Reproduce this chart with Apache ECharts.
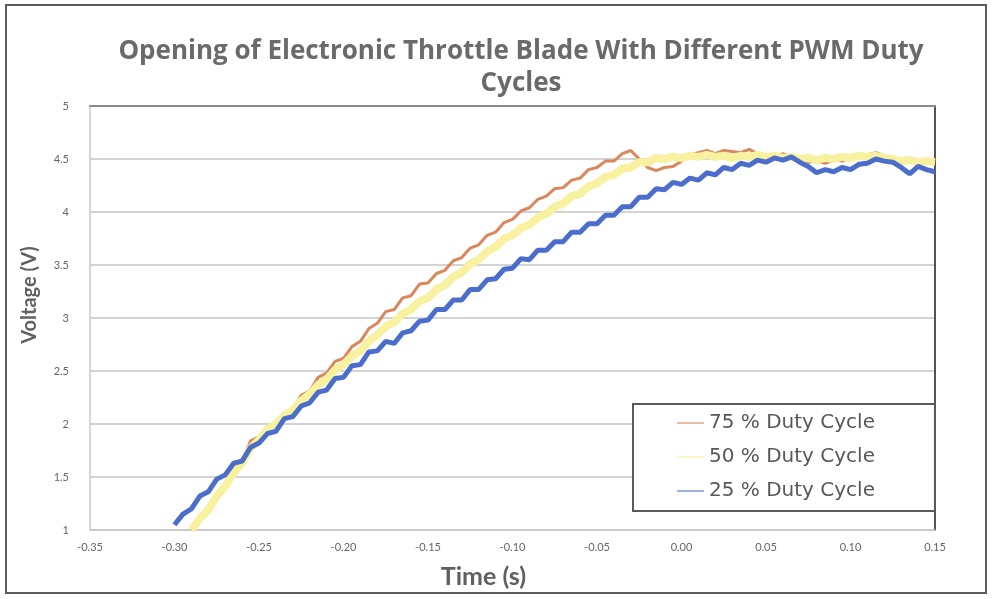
<!DOCTYPE html>
<html>
<head>
<meta charset="utf-8">
<script src="https://cdn.jsdelivr.net/npm/echarts@6/dist/echarts.min.js"></script>
<style>
  html, body { margin: 0; padding: 0; background: #ffffff; }
  #chart { width: 996px; height: 599px; }
</style>
</head>
<body>
<div id="chart"></div>
<script>
// Sample times (s), one sample every 5 ms from -0.300 to 0.150
const timeStart = -0.300;
const timeStep = 0.005;
const sampleCount = 91;

// Throttle position sensor voltage (V) for each PWM duty cycle
const duty75 = [
  null, null,
  1.00, 1.12, 1.18, 1.32, 1.40, 1.57, 1.65, 1.84,
  1.88, 1.98, 2.00, 2.10, 2.14, 2.27, 2.31, 2.44, 2.48, 2.59,
  2.62, 2.73, 2.78, 2.90, 2.95, 3.06, 3.08, 3.19, 3.21, 3.32,
  3.33, 3.42, 3.45, 3.54, 3.57, 3.66, 3.69, 3.78, 3.81, 3.90,
  3.93, 4.01, 4.04, 4.12, 4.15, 4.22, 4.23, 4.30, 4.32, 4.40,
  4.42, 4.48, 4.48, 4.55, 4.58, 4.50, 4.42, 4.39, 4.42, 4.43,
  4.48, 4.54, 4.56, 4.58, 4.55, 4.58, 4.57, 4.56, 4.59, 4.55,
  4.54, 4.51, 4.55, 4.52, 4.50, 4.47, 4.48, 4.46, 4.49, 4.48,
  4.51, 4.52, 4.54, 4.56, 4.53, 4.52, 4.49, 4.50, 4.47, 4.48,
  4.46
];

const duty50 = [
  null, null,
  1.00, 1.11, 1.19, 1.32, 1.41, 1.54, 1.63, 1.77,
  1.85, 1.95, 2.00, 2.08, 2.13, 2.22, 2.28, 2.37, 2.42, 2.51,
  2.56, 2.64, 2.69, 2.78, 2.84, 2.92, 2.96, 3.04, 3.08, 3.16,
  3.19, 3.27, 3.31, 3.39, 3.43, 3.51, 3.55, 3.63, 3.67, 3.75,
  3.78, 3.85, 3.88, 3.95, 3.98, 4.05, 4.08, 4.15, 4.17, 4.24,
  4.27, 4.33, 4.35, 4.41, 4.42, 4.47, 4.47, 4.51, 4.50, 4.52,
  4.51, 4.53, 4.52, 4.54, 4.52, 4.53, 4.51, 4.53, 4.52, 4.54,
  4.52, 4.53, 4.51, 4.52, 4.50, 4.51, 4.49, 4.51, 4.50, 4.52,
  4.51, 4.53, 4.52, 4.53, 4.51, 4.50, 4.48, 4.49, 4.47, 4.48,
  4.47
];

const duty25 = [
  1.05, 1.15, 1.20, 1.32, 1.36, 1.48, 1.52, 1.63, 1.65, 1.78,
  1.82, 1.91, 1.93, 2.05, 2.07, 2.17, 2.20, 2.30, 2.32, 2.43,
  2.44, 2.55, 2.56, 2.68, 2.69, 2.78, 2.76, 2.86, 2.88, 2.97,
  2.98, 3.08, 3.08, 3.17, 3.17, 3.27, 3.27, 3.36, 3.37, 3.46,
  3.47, 3.56, 3.55, 3.64, 3.64, 3.72, 3.72, 3.81, 3.81, 3.89,
  3.89, 3.97, 3.97, 4.05, 4.05, 4.14, 4.14, 4.22, 4.21, 4.28,
  4.26, 4.32, 4.30, 4.37, 4.35, 4.42, 4.40, 4.46, 4.44, 4.49,
  4.47, 4.51, 4.49, 4.52, 4.47, 4.43, 4.37, 4.40, 4.38, 4.42,
  4.40, 4.45, 4.46, 4.50, 4.48, 4.47, 4.42, 4.36, 4.43, 4.40,
  4.38
];

const seriesNames = ['75 % Duty Cycle', '50 % Duty Cycle', '25 % Duty Cycle'];
const seriesColors = ['#d9875b', '#f8f1a0', '#4b6dcb'];

const times = [];
for (let i = 0; i < sampleCount; i++) {
  times.push(+(timeStart + i * timeStep).toFixed(3));
}
const toPairs = (vals) => vals.map((v, i) => [times[i], v]);

const chart = echarts.init(document.getElementById('chart'), null, { renderer: 'canvas' });

const labelFont = 'Lato, "Open Sans", sans-serif';

chart.setOption({
  backgroundColor: '#ffffff',
  animation: false,
  title: {
    text: 'Opening of Electronic Throttle Blade With Different PWM Duty\nCycles',
    left: 516,
    top: 31,
    textAlign: 'center',
    padding: 5,
    textStyle: {
      fontFamily: '"Open Sans", sans-serif',
      fontSize: 26,
      fontWeight: 'bold',
      color: '#6a6a6a',
      lineHeight: 32
    }
  },
  legend: {
    orient: 'vertical',
    left: 633,
    top: 404,
    padding: [7, 60, 8, 44],
    itemGap: 10,
    itemWidth: 27,
    itemHeight: 2,
    icon: 'rect',
    itemStyle: { opacity: 0.55 },
    backgroundColor: '#ffffff',
    borderColor: '#5a5a5a',
    borderWidth: 2,
    textStyle: {
      fontFamily: '"DejaVu Sans", sans-serif',
      fontSize: 20,
      lineHeight: 24,
      color: '#585858'
    },
    data: seriesNames
  },
  grid: {
    left: 90,
    right: 61,
    top: 106,
    bottom: 69,
    containLabel: false
  },
  xAxis: [{
    type: 'value',
    min: -0.35,
    max: 0.15,
    interval: 0.05,
    name: 'Time (s)',
    nameLocation: 'middle',
    nameGap: 34,
    nameTextStyle: {
      fontFamily: labelFont,
      fontSize: 25,
      fontWeight: 'bold',
      color: '#606060',
      padding: [0, 58, 0, 0]
    },
    axisLine: { show: true, onZero: false, lineStyle: { color: '#c8c8c8', width: 1.5 } },
    axisTick: { show: false },
    splitLine: { show: false },
    axisLabel: {
      fontFamily: labelFont,
      fontSize: 11,
      color: '#666666',
      margin: 12,
      formatter: (v) => v.toFixed(2)
    }
  }, {
    type: 'value',
    position: 'top',
    min: -0.35,
    max: 0.15,
    axisLine: { show: true, onZero: false, lineStyle: { color: '#8a8a8a', width: 2 } },
    axisTick: { show: false },
    axisLabel: { show: false },
    splitLine: { show: false }
  }],
  yAxis: [{
    type: 'value',
    min: 1,
    max: 5,
    interval: 0.5,
    name: 'Voltage (V)',
    nameLocation: 'middle',
    nameGap: 50,
    nameTextStyle: {
      fontFamily: labelFont,
      fontSize: 20,
      fontWeight: 'bold',
      color: '#606060',
      padding: [0, 0, 0, 46]
    },
    axisLine: { show: true, onZero: false, lineStyle: { color: '#c8c8c8', width: 1.5 } },
    axisTick: { show: false },
    splitLine: { show: true, lineStyle: { color: '#c4c4c4', width: 1.5 } },
    axisLabel: {
      fontFamily: labelFont,
      fontSize: 11,
      color: '#666666',
      margin: 21,
      formatter: (v) => String(v)
    }
  }, {
    type: 'value',
    position: 'right',
    min: 1,
    max: 5,
    axisLine: { show: true, onZero: false, lineStyle: { color: '#555555', width: 2 } },
    axisTick: { show: false },
    axisLabel: { show: false },
    splitLine: { show: false }
  }],
  graphic: [{
    type: 'rect',
    shape: { x: 6, y: 5, width: 980, height: 588 },
    style: { fill: 'none', stroke: '#5a5a5a', lineWidth: 2 },
    silent: true,
    z: -1
  }],
  series: [
    {
      name: seriesNames[0],
      type: 'line',
      data: toPairs(duty75),
      showSymbol: false,
      symbol: 'none',
      color: seriesColors[0],
      lineStyle: { width: 3, color: seriesColors[0] },
      z: 2
    },
    {
      name: seriesNames[1],
      type: 'line',
      data: toPairs(duty50),
      showSymbol: false,
      symbol: 'none',
      color: seriesColors[1],
      lineStyle: { width: 8, color: seriesColors[1] },
      z: 3
    },
    {
      name: seriesNames[2],
      type: 'line',
      data: toPairs(duty25),
      showSymbol: false,
      symbol: 'none',
      color: seriesColors[2],
      lineStyle: { width: 5, color: seriesColors[2] },
      z: 4
    }
  ]
});
</script>
</body>
</html>
